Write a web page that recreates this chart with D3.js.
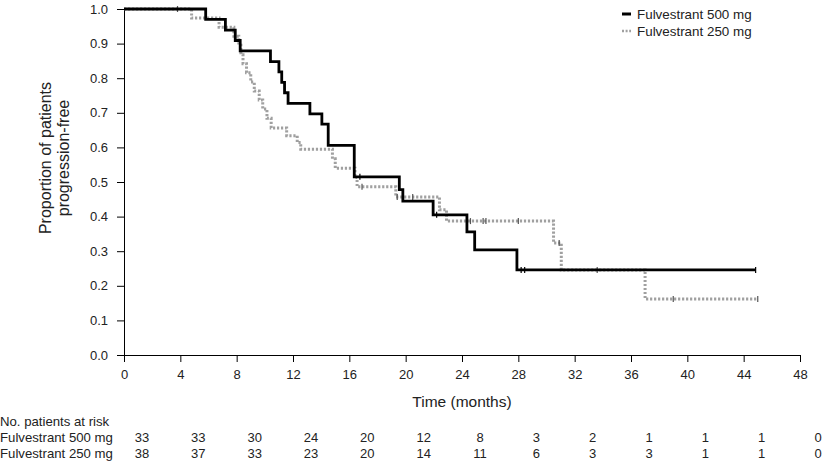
<!DOCTYPE html>
<html>
<head>
<meta charset="utf-8">
<script src="https://cdn.jsdelivr.net/npm/d3@7"></script>
<style>
  html, body { margin: 0; padding: 0; background: #fff; }
  svg { display: block; font-family: "Liberation Sans", Arial, Helvetica, sans-serif; }
</style>
</head>
<body>
<svg id="chart" width="823" height="463"></svg>
<script>
// ---- Data ----
const seriesNames = ["Fulvestrant 500 mg", "Fulvestrant 250 mg"];

const times500 = [0, 5.8, 7.2, 7.9, 8.25, 10.4, 11.0, 11.2, 11.4, 11.65, 13.2, 14.05, 14.5, 16.35, 19.55, 19.8, 21.95, 24.35, 24.9, 27.9];
const surv500  = [1.0, 0.970, 0.939, 0.909, 0.879, 0.848, 0.818, 0.788, 0.758, 0.727, 0.697, 0.667, 0.606, 0.515, 0.478, 0.445, 0.405, 0.356, 0.304, 0.246];
const end500 = 44.85;
const censor500 = [16.75, 22.2, 28.2, 28.45, 44.85];

const times250 = [0, 4.8, 6.75, 7.8, 8.15, 8.3, 8.45, 8.7, 9.0, 9.25, 9.6, 9.85, 10.15, 10.45, 11.55, 12.3, 12.55, 14.8, 15.0, 16.4, 16.55, 19.3, 22.4, 22.9, 30.5, 31.05, 37.0];
const surv250  = [1.0, 0.974, 0.947, 0.921, 0.895, 0.868, 0.842, 0.816, 0.789, 0.763, 0.737, 0.711, 0.684, 0.656, 0.634, 0.614, 0.595, 0.567, 0.540, 0.513, 0.486, 0.457, 0.420, 0.387, 0.324, 0.246, 0.162];
const end250 = 45.0;
const censor250 = [3.8, 16.9, 19.4, 20.5, 24.6, 25.5, 25.7, 28.0, 30.9, 33.6, 39.0, 45.0];

const xTicks = [0, 4, 8, 12, 16, 20, 24, 28, 32, 36, 40, 44, 48];
const yTicks = [0, 0.1, 0.2, 0.3, 0.4, 0.5, 0.6, 0.7, 0.8, 0.9, 1.0];

const riskTimes = [0, 4, 8, 12, 16, 20, 24, 28, 32, 36, 40, 44, 48];
const risk500 = [33, 33, 30, 24, 20, 12, 8, 3, 2, 1, 1, 1, 0];
const risk250 = [38, 37, 33, 23, 20, 14, 11, 6, 3, 3, 1, 1, 0];

// ---- Layout ----
const svg = d3.select("#chart");
const plotLeft = 124, plotRight = 800, plotTop = 9, plotBottom = 355;
const x = d3.scaleLinear().domain([0, 48]).range([plotLeft, plotRight]);
const y = d3.scaleLinear().domain([0, 1]).range([plotBottom, plotTop]);
const textColor = "#222";

// Axes
const xAxis = d3.axisBottom(x).tickValues(xTicks).tickSize(7).tickSizeOuter(0).tickFormat(d3.format("d"));
const yAxis = d3.axisLeft(y).tickValues(yTicks).tickSize(7).tickSizeOuter(0).tickFormat(d3.format(".1f"));

const gx = svg.append("g").attr("transform", `translate(0,${plotBottom})`).call(xAxis);
gx.select(".domain").attr("stroke", "#000");
gx.selectAll(".tick line").attr("stroke", "#000");
gx.selectAll(".tick text").attr("fill", textColor).attr("font-size", 13).attr("dy", "1.05em")
  .attr("font-family", "Liberation Sans, Arial, sans-serif");

const gy = svg.append("g").attr("transform", `translate(${plotLeft},0)`).call(yAxis);
gy.select(".domain").attr("stroke", "#000");
gy.selectAll(".tick line").attr("stroke", "#000");
gy.selectAll(".tick text").attr("fill", textColor).attr("font-size", 13).attr("x", -16)
  .attr("font-family", "Liberation Sans, Arial, sans-serif");

// Axis titles
svg.append("text").attr("x", (plotLeft + plotRight) / 2).attr("y", 407).attr("text-anchor", "middle")
  .attr("font-size", 15.5).attr("fill", textColor).text("Time (months)");

const yl = svg.append("text").attr("transform", "translate(0,158) rotate(-90)")
  .attr("text-anchor", "middle").attr("font-size", 16).attr("fill", textColor);
yl.append("tspan").attr("x", 0).attr("y", 51).text("Proportion of patients");
yl.append("tspan").attr("x", 0).attr("y", 69).text("progression-free");

// Step curves
function stepPoints(times, surv, end) {
  const pts = times.map((t, i) => [t, surv[i]]);
  pts.push([end, surv[surv.length - 1]]);
  return pts;
}
function survAt(times, surv, t) {
  let v = surv[0];
  for (let i = 0; i < times.length; i++) { if (times[i] <= t) v = surv[i]; }
  return v;
}
const line = d3.line().x(d => x(d[0])).y(d => y(d[1])).curve(d3.curveStepAfter);

const series = [
  { times: times250, surv: surv250, end: end250, censor: censor250, color: "#a0a0a0", dash: "2.2,1.8", width: 3 },
  { times: times500, surv: surv500, end: end500, censor: censor500, color: "#000", dash: null, width: 2.8 }
];

series.forEach(s => {
  svg.append("path").datum(stepPoints(s.times, s.surv, s.end))
    .attr("d", line).attr("fill", "none").attr("stroke", s.color)
    .attr("stroke-width", s.width).attr("stroke-dasharray", s.dash);
  svg.append("g").selectAll("line").data(s.censor).join("line")
    .attr("x1", d => x(d)).attr("x2", d => x(d))
    .attr("y1", d => y(survAt(s.times, s.surv, d)) - 3)
    .attr("y2", d => y(survAt(s.times, s.surv, d)) + 3)
    .attr("stroke", s.color === "#000" ? "#000" : "#555").attr("stroke-width", 1.2);
});

// Legend
const legend = [
  { name: seriesNames[0], color: "#000", dash: null, width: 3 },
  { name: seriesNames[1], color: "#a0a0a0", dash: "2,1.6", width: 2.5 }
];
legend.forEach((l, i) => {
  const ly = 14 + i * 17;
  svg.append("line").attr("x1", 622).attr("x2", 631).attr("y1", ly).attr("y2", ly)
    .attr("stroke", l.color).attr("stroke-width", l.width).attr("stroke-dasharray", l.dash);
  svg.append("text").attr("x", 637).attr("y", ly + 5).attr("font-size", 13.4)
    .attr("fill", textColor).text(l.name);
});

// At-risk table
svg.append("text").attr("x", 0).attr("y", 426).attr("font-size", 13.2).attr("fill", textColor).text("No. patients at risk");
[[seriesNames[0], risk500, 442], [seriesNames[1], risk250, 458]].forEach(([name, vals, ry]) => {
  svg.append("text").attr("x", 0).attr("y", ry).attr("font-size", 13.2).attr("fill", textColor).text(name);
  svg.append("g").selectAll("text").data(vals).join("text")
    .attr("x", (d, i) => x(riskTimes[i]) + 18).attr("y", ry)
    .attr("text-anchor", "middle").attr("font-size", 13).attr("fill", textColor).text(d => d);
});
</script>
</body>
</html>
